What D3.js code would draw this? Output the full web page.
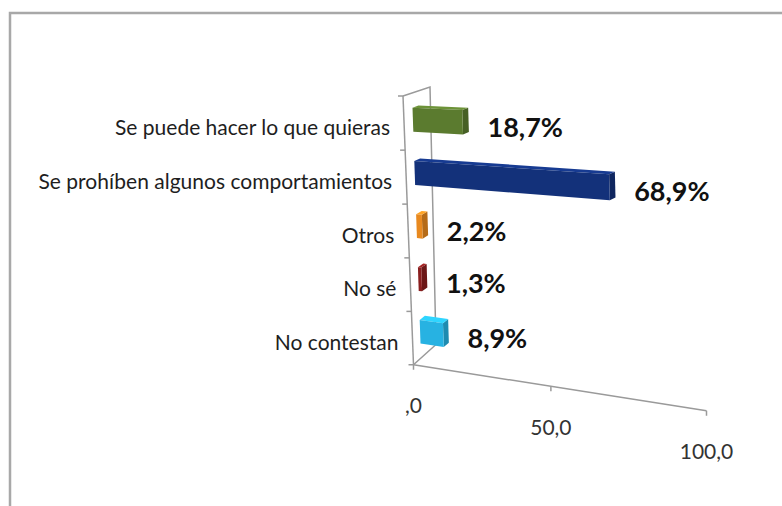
<!DOCTYPE html>
<html>
<head>
<meta charset="utf-8">
<script src="https://cdnjs.cloudflare.com/ajax/libs/d3/7.8.5/d3.min.js"></script>
<style>
  body { margin: 0; background: #fff; }
  svg { display: block; font-family: Lato, "Open Sans", sans-serif; }
</style>
</head>
<body>
<div id="viz"></div>
<script>
// data
var categories = ["Se puede hacer lo que quieras", "Se prohíben algunos comportamientos", "Otros", "No sé", "No contestan"];
var values = [18.7, 68.9, 2.2, 1.3, 8.9];
var valueLabels = ["18,7%", "68,9%", "2,2%", "1,3%", "8,9%"];
var barColors = ["#5b7b2f", "#13317a", "#e8891f", "#8a1e1e", "#27b2e2"];
var xTicks = [0, 50, 100];
var xTickLabels = [",0", "50,0", "100,0"];

var width = 782, height = 506;

var svg = d3.select("#viz").append("svg")
    .attr("width", width)
    .attr("height", height);

// outer frame (only top and left edges are in the crop)
svg.append("rect")
    .attr("x", 10).attr("y", 13)
    .attr("width", 900).attr("height", 600)
    .attr("fill", "none")
    .attr("stroke", "#a8a8a8")
    .attr("stroke-width", 2.5);

// scales: value -> u (0..1), category -> v (0..1)
var x = d3.scaleLinear().domain([0, 100]).range([0, 1]);
var y = d3.scaleBand().domain(categories).range([0, 1])
    .paddingInner(0.55).paddingOuter(0.275);

// perspective plane of the bar fronts, corners in screen px
var q00 = [412, 93], q10 = [707, 104], q11 = [714, 404], q01 = [421, 358];

function homography(p0, p1, p2, p3) {
    var dx1 = p1[0] - p2[0], dx2 = p3[0] - p2[0], dx3 = p0[0] - p1[0] + p2[0] - p3[0];
    var dy1 = p1[1] - p2[1], dy2 = p3[1] - p2[1], dy3 = p0[1] - p1[1] + p2[1] - p3[1];
    var den = dx1 * dy2 - dx2 * dy1;
    var g = (dx3 * dy2 - dx2 * dy3) / den;
    var h = (dx1 * dy3 - dx3 * dy1) / den;
    var a = p1[0] - p0[0] + g * p1[0], b = p3[0] - p0[0] + h * p3[0], c = p0[0];
    var d = p1[1] - p0[1] + g * p1[1], e = p3[1] - p0[1] + h * p3[1], f = p0[1];
    return function(u, v) {
        var w = g * u + h * v + 1;
        return [(a * u + b * v + c) / w, (d * u + e * v + f) / w];
    };
}
var H = homography(q00, q10, q11, q01);

// depth direction changes a little from top to bottom
function P(u, v, depth) {
    var p = H(u, v);
    return [p[0] + depth * (6 - v), p[1] + depth * (-2 - 2.5 * v)];
}

var dFront = -1.5, dBack = 3;
var line = d3.line();
var axisColor = "#9a9a9a";

var axes = svg.append("g")
    .attr("fill", "none")
    .attr("stroke", axisColor)
    .attr("stroke-width", 1.5);

// wall edges
axes.append("path").attr("d", line([P(0, 0, dFront), P(0, 1, dFront)]));
axes.append("path").attr("d", line([P(0, 0, dFront), P(0, 0, dBack), P(0, 1, dBack), P(0, 1, dFront)]));
// value axis along the floor front
axes.append("path").attr("d", line([P(0, 1, dFront), P(1, 1, dFront)]));

// category ticks at band boundaries
var bounds = d3.range(categories.length + 1).map(function(i) { return i / categories.length; });
bounds.forEach(function(v) {
    var p = P(0, v, dFront);
    axes.append("path").attr("d", line([p, [p[0] - 5, p[1]]]));
});

// value ticks + labels
xTicks.forEach(function(t, i) {
    var p = P(x(t), 1, dFront);
    axes.append("path").attr("d", line([p, [p[0], p[1] + 5]]));
    svg.append("text")
        .attr("x", p[0])
        .attr("y", p[1] + 40)
        .attr("text-anchor", "middle")
        .attr("dominant-baseline", "central")
        .attr("fill", "#333")
        .style("font-size", "21px")
        .text(xTickLabels[i]);
});

// category labels
categories.forEach(function(c) {
    var vc = y(c) + y.bandwidth() / 2;
    var p = P(0, vc, dFront);
    svg.append("text")
        .attr("x", p[0] - 14)
        .attr("y", p[1] + 3)
        .attr("text-anchor", "end")
        .attr("dominant-baseline", "central")
        .attr("fill", "#1e1e1e")
        .style("font-size", "21px")
        .text(c);
});

// 3d bars
var bars = svg.append("g");
categories.forEach(function(c, i) {
    var v0 = y(c), v1 = y(c) + y.bandwidth();
    var u1 = x(values[i]);
    var col = d3.color(barColors[i]);

    // right side
    bars.append("path")
        .attr("d", line([P(u1, v0, 0), P(u1, v0, 1), P(u1, v1, 1), P(u1, v1, 0)]) + "Z")
        .attr("fill", col.darker(0.7));
    // top
    bars.append("path")
        .attr("d", line([P(0, v0, 0), P(u1, v0, 0), P(u1, v0, 1), P(0, v0, 1)]) + "Z")
        .attr("fill", col.brighter(0.5));
    // front
    bars.append("path")
        .attr("d", line([P(0, v0, 0), P(u1, v0, 0), P(u1, v1, 0), P(0, v1, 0)]) + "Z")
        .attr("fill", col);

    var vc = (v0 + v1) / 2;
    var end = P(u1, vc, 1);
    svg.append("text")
        .attr("x", end[0] + 19)
        .attr("y", P(u1, vc, 0.5)[1] + 5)
        .attr("dominant-baseline", "central")
        .attr("fill", "#111")
        .style("font-size", "27px")
        .style("font-weight", "bold")
        .text(valueLabels[i]);
});
</script>
</body>
</html>
